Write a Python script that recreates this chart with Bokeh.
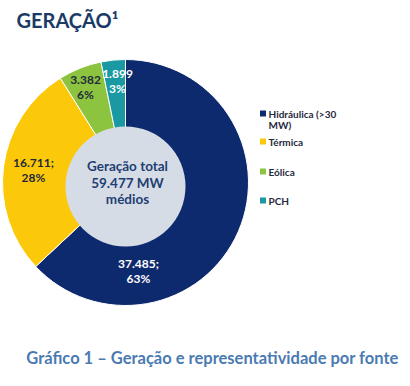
import math
from bokeh.plotting import figure
from bokeh.models import Range1d
from bokeh.core.properties import value
from bokeh.embed import file_html
from bokeh.resources import INLINE

# ---- data ----
sources = ["Hidráulica (>30 MW)", "Térmica", "Eólica", "PCH"]
values = [37485, 16711, 3382, 1899]
percents = [63, 28, 6, 3]
total = 59477
legend_lines = [["Hidráulica (>30", "MW)"], ["Térmica"], ["Eólica"], ["PCH"]]
title_text = "GERAÇÃO¹"
center_lines = ["Geração total", "59.477 MW", "médios"]
caption = "Gráfico 1 – Geração e representatividade por fonte"

# ---- styles ----
colors = ["#0E2A6E", "#FCC80A", "#8DC43F", "#1A99A3"]
label_colors = ["#FFFFFF", "#1F2A3C", "#1F2A3C", "#FFFFFF"]
label_sep = [";", ";", "", ""]
FONT = "Lato"
W, H = 410, 386  # reference size (page coords, y down)


def Y(y):
    return H - y


p = figure(width=W, height=H, output_backend="svg", toolbar_location=None,
           x_range=Range1d(0, W), y_range=Range1d(0, H), min_border=0)
p.axis.visible = False
p.grid.visible = False
p.outline_line_color = None
p.background_fill_color = "#FFFFFF"
p.border_fill_color = "#FFFFFF"

# donut
cx, cy, R = 125, 182, 123
tot = sum(values)
starts, ends = [], []
cum = 0.0
for v in values:
    starts.append(math.pi / 2 - 2 * math.pi * cum / tot)
    cum += v
    ends.append(math.pi / 2 - 2 * math.pi * cum / tot)
p.wedge(x=[cx] * 4, y=[Y(cy)] * 4, radius=R, start_angle=starts, end_angle=ends,
        direction="clock", fill_color=colors, line_color="#FFFFFF", line_width=1)

# hole
p.circle(x=[cx], y=[Y(186)], radius=60, fill_color="#D6DCE6", line_color=None)

# data labels (ref coords of line centres)
label_pos = [(138, 263), (33, 162), (85, 79), (117, 73)]
lx, ly, lt, lc = [], [], [], []
for i, v in enumerate(values):
    x0, y0 = label_pos[i]
    first = f"{v:,}".replace(",", ".") + label_sep[i]
    second = f"{percents[i]}%"
    lx += [x0, x0]
    ly += [Y(y0), Y(y0 + 15)]
    lt += [first, second]
    lc += [label_colors[i]] * 2
p.text(x=lx, y=ly, text=lt, text_color=lc, text_font=value(FONT),
       text_font_style="bold", text_font_size="12px",
       text_align="center", text_baseline="middle")

# center text
p.text(x=[127] * 3, y=[Y(165), Y(182), Y(198)], text=center_lines,
       text_color="#1F3E73", text_font=value(FONT), text_font_style="bold",
       text_font_size="13.5px", text_align="center", text_baseline="middle")

# legend
leg_y = [113, 141, 171, 200]
p.rect(x=[262.5] * 4, y=[Y(v) for v in leg_y], width=6, height=6,
       fill_color=colors, line_color=None)
tx, ty, tt = [], [], []
for i, lines in enumerate(legend_lines):
    for j, s in enumerate(lines):
        tx.append(268)
        ty.append(Y(leg_y[i] + 11 * j))
        tt.append(s)
p.text(x=tx, y=ty, text=tt, text_color="#1F2A3C", text_font=value(FONT),
       text_font_style="bold", text_font_size="10px",
       text_align="left", text_baseline="middle")

# title
p.text(x=[16], y=[Y(19)], text=[title_text], text_color="#1B3A66",
       text_font=value(FONT), text_font_style="bold", text_font_size="20px",
       text_align="left", text_baseline="middle")

# caption
p.text(x=[212], y=[Y(357)], text=[caption], text_color="#4A7AB2",
       text_font=value(FONT), text_font_style="bold", text_font_size="16.5px",
       text_align="center", text_baseline="middle")

open("out.html", "w").write(file_html(p, INLINE))
